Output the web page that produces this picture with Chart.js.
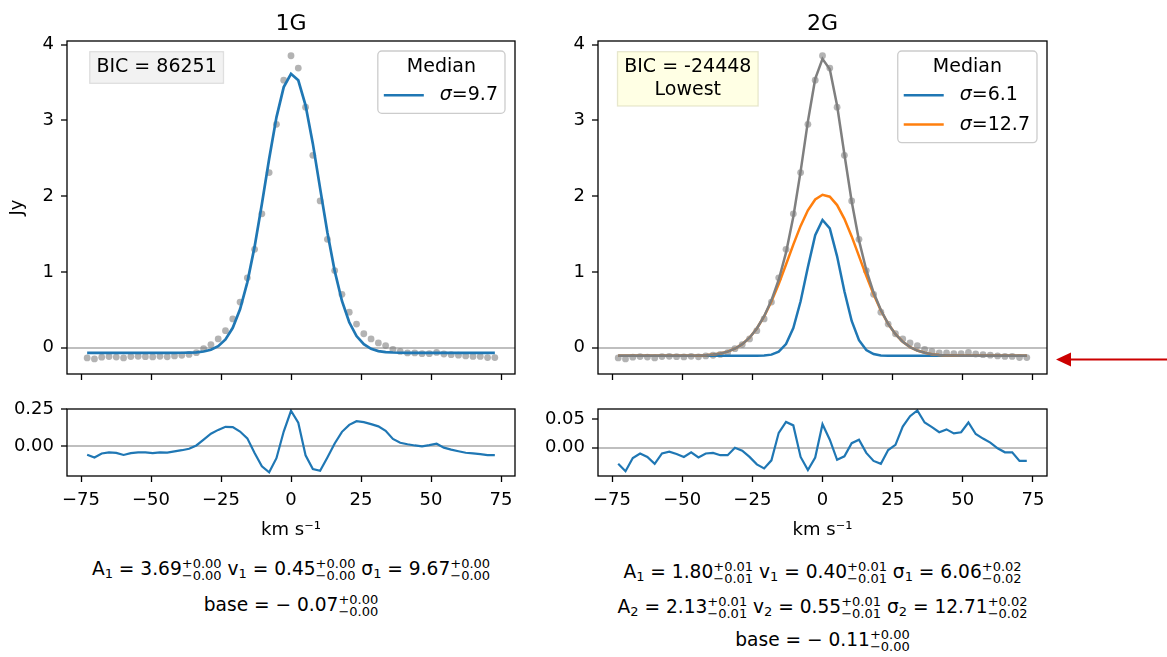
<!DOCTYPE html>
<html>
<head>
<meta charset="utf-8">
<script src="https://cdn.jsdelivr.net/npm/chart.js@4.4.1/dist/chart.umd.min.js"></script>
<style>
  body { margin: 0; background: #fff; width: 1167px; height: 657px; overflow: hidden; position: relative; font-family: "DejaVu Sans"; color: #000; }
  .box { position: absolute; }
  .fit { position: absolute; width: 530px; text-align: center; font-size: 18.6px; line-height: 36px; white-space: nowrap; }
  .fit sub { font-size: 13px; vertical-align: -3px; line-height: 0; }
  .pm { display: inline-block; vertical-align: -5px; font-size: 13px; line-height: 12px; text-align: left; }
  .pm span { display: block; }
</style>
</head>
<body>
<div class="box" style="left:0;top:0;width:540px;height:380px"><canvas id="main1"></canvas></div>
<div class="box" style="left:0;top:395px;width:540px;height:150px"><canvas id="res1"></canvas></div>
<div class="box" style="left:530px;top:0;width:540px;height:380px"><canvas id="main2"></canvas></div>
<div class="box" style="left:530px;top:395px;width:540px;height:150px"><canvas id="res2"></canvas></div>
<div id="fits"></div>
<svg style="position:absolute;left:1050px;top:345px" width="117" height="30">
  <line x1="19" y1="14.5" x2="117" y2="14.5" stroke="#cc0000" stroke-width="2"/>
  <polygon points="6,14.5 21,7.5 21,21.5" fill="#cc0000"/>
</svg>
<script>
// channel velocities (km/s)
const velocity = [-72.8, -70.2, -67.6, -65.0, -62.4, -59.8, -57.2, -54.6, -52.0, -49.4, -46.8, -44.2, -41.6, -39.0,
  -36.4, -33.8, -31.2, -28.6, -26.0, -23.4, -20.8, -18.2, -15.6, -13.0, -10.4, -7.8, -5.2, -2.6, 0.0, 2.6, 5.2, 7.8,
  10.4, 13.0, 15.6, 18.2, 20.8, 23.4, 26.0, 28.6, 31.2, 33.8, 36.4, 39.0, 41.6, 44.2, 46.8, 49.4, 52.0, 54.6, 57.2,
  59.8, 62.4, 65.0, 67.6, 70.2, 72.8];

// observed spectrum (Jy)
const flux = [-0.138, -0.151, -0.128, -0.120, -0.126, -0.138, -0.120, -0.117, -0.121, -0.125, -0.116, -0.123, -0.111, -0.102,
  -0.092, -0.068, -0.016, 0.039, 0.114, 0.223, 0.378, 0.601, 0.921, 1.298, 1.767, 2.312, 2.949, 3.532, 3.855, 3.692, 3.176, 2.539,
  1.937, 1.429, 1.016, 0.703, 0.467, 0.310, 0.182, 0.114, 0.061, 0.025, -0.026, -0.052, -0.071, -0.072, -0.082, -0.082, -0.065, -0.086, -0.094,
  -0.101, -0.111, -0.118, -0.118, -0.133, -0.133];

// 1G fit and residual
const model1G = [-0.070, -0.070, -0.070, -0.070, -0.070, -0.070, -0.070, -0.070, -0.070, -0.070, -0.070, -0.070, -0.070, -0.069,
  -0.067, -0.063, -0.053, -0.030, 0.018, 0.106, 0.260, 0.505, 0.861, 1.333, 1.896, 2.494, 3.041, 3.441, 3.616, 3.530, 3.201, 2.694,
  2.103, 1.520, 1.012, 0.615, 0.333, 0.151, 0.043, -0.017, -0.047, -0.060, -0.066, -0.069, -0.070, -0.070, -0.070, -0.070, -0.070, -0.070, -0.070,
  -0.070, -0.070, -0.070, -0.070, -0.070, -0.070];
const resid1G = [-0.057, -0.075, -0.048, -0.041, -0.044, -0.058, -0.046, -0.040, -0.041, -0.045, -0.040, -0.042, -0.034, -0.026,
  -0.016, 0.006, 0.045, 0.085, 0.111, 0.132, 0.130, 0.100, 0.054, -0.045, -0.135, -0.175, -0.080, 0.100, 0.240, 0.160, -0.060, -0.153,
  -0.165, -0.075, 0.019, 0.098, 0.145, 0.170, 0.163, 0.150, 0.135, 0.105, 0.050, 0.024, 0.014, 0.006, 0.000, 0.008, 0.018, -0.009, -0.022,
  -0.033, -0.043, -0.048, -0.053, -0.059, -0.059];

// 2G components (with baseline), total and residual
const comp2G1 = [-0.110, -0.110, -0.110, -0.110, -0.110, -0.110, -0.110, -0.110, -0.110, -0.110, -0.110, -0.110, -0.110, -0.110,
  -0.110, -0.110, -0.110, -0.110, -0.110, -0.109, -0.106, -0.094, -0.055, 0.046, 0.258, 0.611, 1.065, 1.483, 1.686, 1.575, 1.205, 0.744,
  0.351, 0.097, -0.033, -0.086, -0.104, -0.109, -0.110, -0.110, -0.110, -0.110, -0.110, -0.110, -0.110, -0.110, -0.110, -0.110, -0.110, -0.110, -0.110,
  -0.110, -0.110, -0.110, -0.110, -0.110, -0.110];
const comp2G2 = [-0.110, -0.110, -0.110, -0.110, -0.110, -0.110, -0.110, -0.110, -0.110, -0.109, -0.108, -0.106, -0.101, -0.093,
  -0.079, -0.055, -0.016, 0.044, 0.130, 0.251, 0.410, 0.607, 0.840, 1.097, 1.360, 1.607, 1.813, 1.956, 2.018, 1.993, 1.882, 1.700,
  1.468, 1.208, 0.947, 0.702, 0.489, 0.313, 0.177, 0.077, 0.006, -0.040, -0.070, -0.088, -0.098, -0.104, -0.107, -0.109, -0.109, -0.110, -0.110,
  -0.110, -0.110, -0.110, -0.110, -0.110, -0.110];
const model2G = [-0.110, -0.110, -0.110, -0.110, -0.110, -0.110, -0.110, -0.110, -0.110, -0.109, -0.108, -0.106, -0.101, -0.093,
  -0.079, -0.055, -0.016, 0.044, 0.130, 0.252, 0.414, 0.623, 0.895, 1.253, 1.728, 2.328, 2.988, 3.549, 3.814, 3.678, 3.197, 2.554,
  1.929, 1.415, 1.025, 0.726, 0.495, 0.314, 0.177, 0.077, 0.006, -0.040, -0.070, -0.088, -0.098, -0.104, -0.107, -0.109, -0.109, -0.110, -0.110,
  -0.110, -0.110, -0.110, -0.110, -0.110, -0.110];
const resid2G = [-0.028, -0.041, -0.018, -0.010, -0.016, -0.028, -0.010, -0.007, -0.011, -0.016, -0.008, -0.017, -0.010, -0.009,
  -0.013, -0.013, 0.000, -0.005, -0.016, -0.029, -0.036, -0.022, 0.026, 0.045, 0.039, -0.016, -0.039, -0.017, 0.041, 0.014, -0.021, -0.015,
  0.008, 0.014, -0.009, -0.023, -0.028, -0.004, 0.005, 0.037, 0.055, 0.065, 0.044, 0.036, 0.027, 0.032, 0.025, 0.027, 0.044, 0.024, 0.016,
  0.009, -0.001, -0.008, -0.008, -0.023, -0.023];

// ticks
const xTickVals = [-75, -50, -25, 0, 25, 50, 75];
const xTickLabels = ['\u221275', '\u221250', '\u221225', '0', '25', '50', '75'];
const mainTickVals = [0, 1, 2, 3, 4];
const mainTickLabels = ['0', '1', '2', '3', '4'];
const res1TickVals = [0, 0.25];
const res1TickLabels = ['0.00', '0.25'];
const res2TickVals = [0, 0.05];
const res2TickLabels = ['0.00', '0.05'];

// fit parameter text: [name, index, value, +err, -err]
const fitText1G = [
  [['A', '1', '3.69', '0.00', '0.00'], ['v', '1', '0.45', '0.00', '0.00'], ['σ', '1', '9.67', '0.00', '0.00']],
  [['base', '', '\u2212 0.07', '0.00', '0.00']]
];
const fitText2G = [
  [['A', '1', '1.80', '0.01', '0.01'], ['v', '1', '0.40', '0.01', '0.01'], ['σ', '1', '6.06', '0.02', '0.02']],
  [['A', '2', '2.13', '0.01', '0.01'], ['v', '2', '0.55', '0.01', '0.01'], ['σ', '2', '12.71', '0.02', '0.02']],
  [['base', '', '\u2212 0.11', '0.00', '0.00']]
];

const BLUE = '#1f77b4', ORANGE = '#ff7f0e', GRAY = '#7f7f7f';
const FONT = '"DejaVu Sans"';

Chart.defaults.font.family = FONT;
Chart.defaults.font.size = 18;
Chart.defaults.color = '#000';
Chart.defaults.animation = false;
Chart.defaults.events = [];
Chart.defaults.plugins.legend.display = false;
Chart.defaults.plugins.tooltip.enabled = false;

function pts(ys) { return velocity.map((x, i) => ({ x: x, y: ys[i] })); }

function drawNote(ctx, a, note) {
  ctx.font = '19px ' + FONT;
  const tw = Math.max(...note.lines.map(s => ctx.measureText(s).width));
  const w = tw + 13.4, h = note.lines.length * 22.7 + 8.9;
  const cx = a.left + 0.2 * (a.right - a.left);
  const x = cx - w / 2, y = a.top + 10.7;
  ctx.fillStyle = note.bg;
  ctx.fillRect(x, y, w, h);
  ctx.strokeStyle = note.edge;
  ctx.lineWidth = 1.3;
  ctx.strokeRect(x, y, w, h);
  ctx.fillStyle = '#000';
  ctx.textAlign = 'center';
  ctx.textBaseline = 'middle';
  note.lines.forEach((s, i) => ctx.fillText(s, cx, y + 15.8 + i * 22.7));
}

function drawLegend(ctx, a, title, items) {
  let tw = 0;
  items.forEach(ds => {
    ctx.font = 'italic 19px ' + FONT;
    let w = ctx.measureText(ds.label[0]).width;
    ctx.font = '19px ' + FONT;
    w += ctx.measureText(ds.label.slice(1)).width;
    tw = Math.max(tw, w);
  });
  const w = 62 + tw + 7, h = 33 + items.length * 29.3;
  const x = a.right - 10 - w, y = a.top + 10;
  ctx.beginPath();
  ctx.roundRect(x, y, w, h, 4);
  ctx.fillStyle = 'rgba(255,255,255,0.8)';
  ctx.fill();
  ctx.strokeStyle = '#cccccc';
  ctx.lineWidth = 1.3;
  ctx.stroke();
  ctx.fillStyle = '#000';
  ctx.textBaseline = 'middle';
  ctx.textAlign = 'center';
  ctx.font = '19px ' + FONT;
  ctx.fillText(title, x + w / 2, y + 16);
  items.forEach((ds, i) => {
    const yy = y + 44.3 + i * 29.3;
    ctx.strokeStyle = ds.borderColor;
    ctx.lineWidth = 2.5;
    ctx.beginPath();
    ctx.moveTo(x + 6, yy);
    ctx.lineTo(x + 46, yy);
    ctx.stroke();
    ctx.textAlign = 'left';
    ctx.font = 'italic 19px ' + FONT;
    ctx.fillText(ds.label[0], x + 62, yy);
    const w1 = ctx.measureText(ds.label[0]).width;
    ctx.font = '19px ' + FONT;
    ctx.fillText(ds.label.slice(1), x + 62 + w1, yy);
  });
}

// axes frame, panel title, annotation box and legend
const panelPlugin = {
  id: 'panel',
  afterDatasetsDraw(chart, args, opts) {
    const ctx = chart.ctx, a = chart.chartArea;
    ctx.save();
    ctx.lineWidth = 1.3;
    ctx.strokeStyle = '#000';
    ctx.strokeRect(a.left, a.top, a.right - a.left, a.bottom - a.top);
    if (opts.title) {
      ctx.fillStyle = '#000';
      ctx.font = '22px ' + FONT;
      ctx.textAlign = 'center';
      ctx.textBaseline = 'alphabetic';
      ctx.fillText(opts.title, (a.left + a.right) / 2, a.top - 11);
    }
    if (opts.note) drawNote(ctx, a, opts.note);
    if (opts.legendTitle) {
      const items = chart.data.datasets.filter(ds => ds.inLegend);
      drawLegend(ctx, a, opts.legendTitle, items);
    }
    ctx.restore();
  }
};

function xAxis(height, showLabels) {
  return {
    type: 'linear', position: 'bottom', min: -80, max: 80,
    afterBuildTicks: ax => { ax.ticks = xTickVals.map(v => ({ value: v })); },
    afterFit: ax => { ax.height = height; ax.paddingLeft = 0; ax.paddingRight = 0; },
    grid: { drawOnChartArea: false, tickColor: '#000', tickWidth: 1.3, tickLength: 6 },
    border: { display: false },
    ticks: { display: showLabels, padding: 8, autoSkip: false, maxRotation: 0, color: '#000',
      callback: (v, i) => xTickLabels[i] },
    title: showLabels
      ? { display: true, text: 'km s\u207B\u00B9', padding: { top: 0, bottom: 4 }, color: '#000' }
      : { display: false }
  };
}

function yAxis(width, min, max, vals, labels, title) {
  return {
    type: 'linear', position: 'left', min: min, max: max,
    afterBuildTicks: ax => { ax.ticks = vals.map(v => ({ value: v })); },
    afterFit: ax => { ax.width = width; ax.paddingTop = 0; ax.paddingBottom = 0; },
    grid: {
      color: c => (c.tick && c.tick.value === 0) ? '#bfbfbf' : 'rgba(0,0,0,0)',
      lineWidth: 2, tickColor: '#000', tickWidth: 1.3, tickLength: 6
    },
    border: { display: false },
    ticks: { padding: 7, color: '#000', callback: (v, i) => labels[i] },
    title: title
      ? { display: true, text: title, padding: { top: 7 }, color: '#000' }
      : { display: false }
  };
}

const dots = {
  label: 'data', data: pts(flux), showLine: false, pointRadius: 3.4,
  pointBackgroundColor: 'rgba(128,128,128,0.6)', pointBorderWidth: 0, pointBorderColor: 'rgba(0,0,0,0)'
};
function line(label, ys, color, width, order, inLegend) {
  return { label: label, data: pts(ys), showLine: true, borderColor: color, borderWidth: width,
    pointRadius: 0, order: order, inLegend: inLegend };
}

new Chart(document.getElementById('main1'), {
  type: 'scatter',
  data: { datasets: [
    Object.assign({ order: 2 }, dots),
    line('σ=9.7', model1G, BLUE, 2.7, 1, true)
  ] },
  options: {
    responsive: true, maintainAspectRatio: false,
    layout: { padding: { top: 41, right: 25, bottom: 0, left: 0 } },
    scales: { x: xAxis(6, false), y: yAxis(67, -0.35, 4.05, mainTickVals, mainTickLabels, 'Jy') },
    plugins: { panel: { title: '1G', legendTitle: 'Median',
      note: { lines: ['BIC = 86251'], bg: 'rgba(211,211,211,0.3)', edge: 'rgba(190,190,190,0.45)' } } }
  },
  plugins: [panelPlugin]
});

new Chart(document.getElementById('res1'), {
  type: 'scatter',
  data: { datasets: [line('residual', resid1G, BLUE, 2.2, 1, false)] },
  options: {
    responsive: true, maintainAspectRatio: false,
    layout: { padding: { top: 14, right: 25, bottom: 0, left: 0 } },
    scales: { x: xAxis(69, true), y: yAxis(67, -0.20, 0.252, res1TickVals, res1TickLabels, null) },
    plugins: { panel: {} }
  },
  plugins: [panelPlugin]
});

new Chart(document.getElementById('main2'), {
  type: 'scatter',
  data: { datasets: [
    Object.assign({ order: 4 }, dots),
    line('σ=6.1', comp2G1, BLUE, 2.5, 3, true),
    line('σ=12.7', comp2G2, ORANGE, 2.5, 2, true),
    line('total', model2G, GRAY, 2.5, 1, false)
  ] },
  options: {
    responsive: true, maintainAspectRatio: false,
    layout: { padding: { top: 41, right: 23, bottom: 0, left: 0 } },
    scales: { x: xAxis(6, false), y: yAxis(68, -0.35, 4.05, mainTickVals, mainTickLabels, null) },
    plugins: { panel: { title: '2G', legendTitle: 'Median',
      note: { lines: ['BIC = -24448', 'Lowest'], bg: 'rgba(255,255,210,0.6)', edge: 'rgba(215,215,180,0.6)' } } }
  },
  plugins: [panelPlugin]
});

new Chart(document.getElementById('res2'), {
  type: 'scatter',
  data: { datasets: [line('residual', resid2G, BLUE, 2.2, 1, false)] },
  options: {
    responsive: true, maintainAspectRatio: false,
    layout: { padding: { top: 14, right: 23, bottom: 0, left: 0 } },
    scales: { x: xAxis(69, true), y: yAxis(68, -0.0493, 0.0676, res2TickVals, res2TickLabels, null) },
    plugins: { panel: {} }
  },
  plugins: [panelPlugin]
});

// fit parameter lines under each panel
function termHtml(t) {
  return t[0] + (t[1] ? '<sub>' + t[1] + '</sub>' : '') + ' = ' + t[2] +
    '<span class="pm"><span>+' + t[3] + '</span><span>\u2212' + t[4] + '</span></span>';
}
function placeFit(lines, left, tops) {
  lines.forEach((terms, i) => {
    const d = document.createElement('div');
    d.className = 'fit';
    d.style.left = left + 'px';
    d.style.top = tops[i] + 'px';
    d.innerHTML = terms.map(termHtml).join(' ');
    document.getElementById('fits').appendChild(d);
  });
}
placeFit(fitText1G, 26, [550.8, 586.5]);
placeFit(fitText2G, 557.5, [553.5, 589, 621.5]);
</script>
</body>
</html>
